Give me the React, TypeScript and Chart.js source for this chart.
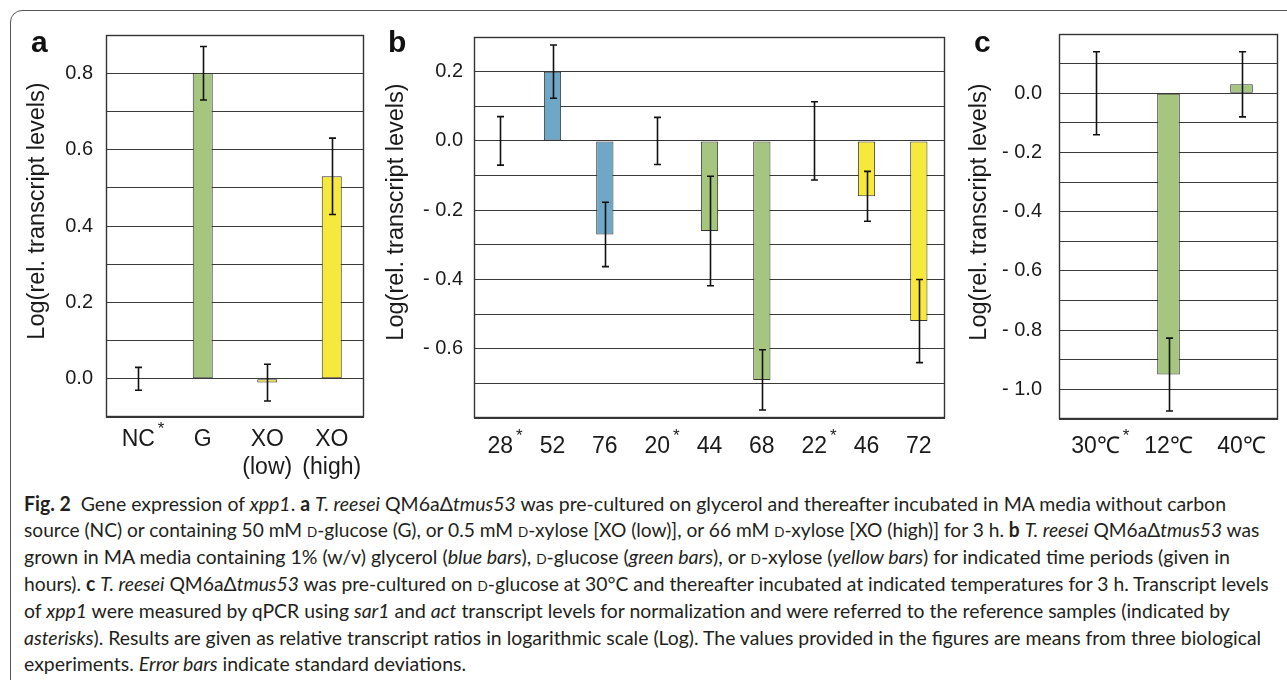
import React, { useEffect, useLayoutEffect, useRef } from "react";
import { Chart, registerables } from "chart.js";

Chart.register(...registerables);

const GREEN = "#a6c67f";
const YELLOW = "#f6e93b";
const BLUE = "#6fa7c7";
const EDGE = "#333333";
const GRID = "#3a3a3a";
const TEXT = "#1a1a1a";
const FONT = "'Liberation Sans', Arial, Helvetica, sans-serif";

// ---- Panel a ----
const A_LABELS = ["NC", "G", "XO", "XO"];
const A_SUBLABELS = ["", "", "(low)", "(high)"];
const A_REFERENCE = [true, false, false, false];
const A_VALUES = [0, 0.8, -0.01, 0.53];
const A_ERRORS = [0.03, 0.07, 0.048, 0.1];
const A_COLORS = [GREEN, GREEN, YELLOW, YELLOW];
const A_YRANGE = [-0.1, 0.9];

// ---- Panel b ----
const B_LABELS = ["28", "52", "76", "20", "44", "68", "22", "46", "72"];
const B_REFERENCE = [true, false, false, true, false, false, true, false, false];
const B_VALUES = [0, 0.2, -0.27, 0, -0.26, -0.69, 0, -0.16, -0.52];
const B_ERRORS = [0.07, 0.077, 0.093, 0.068, 0.158, 0.087, 0.113, 0.072, 0.12];
const B_COLORS = [BLUE, BLUE, BLUE, GREEN, GREEN, GREEN, YELLOW, YELLOW, YELLOW];
const B_YRANGE = [-0.8, 0.3];

// ---- Panel c ----
const C_LABELS = ["30\u2103", "12\u2103", "40\u2103"];
const C_REFERENCE = [true, false, false];
const C_VALUES = [0, -0.95, 0.03];
const C_ERRORS = [0.14, 0.123, 0.11];
const C_COLORS = [GREEN, GREEN, GREEN];
const C_YRANGE = [-1.1, 0.2];

const Y_STEP = 0.1;
const Y_TITLE = "Log(rel. transcript levels)";

function tickText(v: number, min: number, max: number): string {
  const k = Math.round(v * 10);
  if (k === Math.round(min * 10) || k === Math.round(max * 10)) return "";
  if (k % 2 !== 0) return "";
  if (k === 0) return "0.0";
  const s = (Math.abs(k) / 10).toFixed(1);
  return k < 0 ? "- " + s : s;
}

type PanelProps = {
  left: number;
  width: number;
  height: number;
  area: { left: number; right: number; top: number; bottom: number };
  labels: string[];
  sublabels?: string[];
  reference: boolean[];
  values: number[];
  errors: number[];
  colors: string[];
  yRange: number[];
  tickPad: number;
  barFrac: number;
  titleX: number;
  titleY: number;
  labelDy: number;
  sublabelDy?: number;
};

function Panel(p: PanelProps) {
  const ref = useRef<HTMLCanvasElement | null>(null);
  useEffect(() => {
    const canvas = ref.current!;
    const yWidth = p.area.left - p.left;
    const padRight = p.left + p.width - p.area.right;
    const [ymin, ymax] = p.yRange;

    const plugin = {
      id: "panelDecor",
      afterDatasetsDraw(chart: any) {
        const ctx = chart.ctx as CanvasRenderingContext2D;
        const ca = chart.chartArea;
        const ys = chart.scales.y;
        const xs = chart.scales.x;
        ctx.save();
        // frame
        ctx.strokeStyle = EDGE;
        ctx.lineWidth = 1.4;
        ctx.strokeRect(
          Math.round(ca.left) + 0.5,
          Math.round(ca.top) + 0.5,
          Math.round(ca.right - ca.left) - 1,
          Math.round(ca.bottom - ca.top) - 1
        );
        // error bars
        const meta = chart.getDatasetMeta(0);
        ctx.strokeStyle = "#111";
        ctx.lineWidth = 1.6;
        meta.data.forEach((bar: any, i: number) => {
          const x = Math.round(bar.x) + 0.5;
          const v = p.values[i];
          const e = p.errors[i];
          const yt = ys.getPixelForValue(v + e);
          const yb = ys.getPixelForValue(v - e);
          ctx.beginPath();
          ctx.moveTo(x, yt);
          ctx.lineTo(x, yb);
          ctx.moveTo(x - 3.5, yt);
          ctx.lineTo(x + 3.5, yt);
          ctx.moveTo(x - 3.5, yb);
          ctx.lineTo(x + 3.5, yb);
          ctx.stroke();
        });
        // x labels
        ctx.fillStyle = TEXT;
        ctx.textBaseline = "middle";
        p.labels.forEach((lab, i) => {
          const x = xs.getPixelForValue(i);
          const y = ca.bottom + p.labelDy;
          ctx.font = `23px ${FONT}`;
          ctx.textAlign = "center";
          ctx.fillText(lab, x, y);
          const w = ctx.measureText(lab).width;
          if (p.reference[i]) {
            ctx.font = `17px ${FONT}`;
            ctx.textAlign = "left";
            ctx.fillText("*", x + w / 2 + 3, y - 11);
          }
          if (p.sublabels && p.sublabels[i]) {
            ctx.font = `23px ${FONT}`;
            ctx.textAlign = "center";
            ctx.fillText(p.sublabels[i], x, ca.bottom + (p.sublabelDy || 50));
          }
        });
        // y title
        ctx.translate(p.titleX - p.left, p.titleY);
        ctx.rotate(-Math.PI / 2);
        ctx.font = `23.5px ${FONT}`;
        ctx.textAlign = "center";
        ctx.textBaseline = "middle";
        ctx.fillText(Y_TITLE, 0, 0);
        ctx.restore();
      },
    };

    const chart = new Chart(canvas, {
      type: "bar",
      data: {
        labels: p.labels,
        datasets: [
          {
            data: p.values,
            backgroundColor: p.colors,
            borderColor: p.values.map((v) => (v === 0 ? "rgba(0,0,0,0)" : EDGE)),
            borderWidth: 1,
            borderSkipped: false,
            barPercentage: p.barFrac,
            categoryPercentage: 1,
          },
        ],
      },
      options: {
        responsive: false,
        animation: false,
        devicePixelRatio: 1,
        events: [],
        layout: {
          padding: {
            left: 0,
            right: padRight,
            top: p.area.top,
            bottom: p.height - p.area.bottom,
          },
        },
        plugins: { legend: { display: false }, tooltip: { enabled: false } },
        scales: {
          x: { display: false, offset: true, grid: { display: false } },
          y: {
            min: ymin,
            max: ymax,
            ticks: {
              stepSize: Y_STEP,
              autoSkip: false,
              padding: p.tickPad,
              color: TEXT,
              font: { size: 20, family: FONT },
              callback: (v: any) => tickText(Number(v), ymin, ymax),
            },
            grid: { color: GRID, lineWidth: 1, drawTicks: false },
            border: { display: false },
            afterFit: (s: any) => {
              s.width = yWidth;
            },
          },
        },
      } as any,
      plugins: [plugin as any],
    });
    return () => chart.destroy();
  }, []);
  return (
    <canvas
      ref={ref}
      width={p.width}
      height={p.height}
      style={{ position: "absolute", left: p.left, top: 0, width: p.width, height: p.height }}
    />
  );
}

const D = () => <span style={{ fontVariant: "small-caps" }}>d</span>;

const CAPTION_LEFT = 24;
const CAPTION_TOP = 489.6;
const CAPTION_LINE = 26.8;
const CAPTION_WIDTHS = [1202, 1235, 1206, 1245, 1206, 1237, 442];

const CAPTION_LINES: React.ReactNode[] = [
  <>
    <b>Fig. 2</b>{"\u2002"}Gene expression of <i>xpp1</i>. <b>a</b> <i>T. reesei</i> QM6a{"\u0394"}
    <i>tmus53</i> was pre-cultured on glycerol and thereafter incubated in MA media without carbon
  </>,
  <>
    source (NC) or containing 50 mM <D />-glucose (G), or 0.5 mM <D />-xylose [XO (low)], or 66 mM <D />-xylose [XO
    (high)] for 3 h. <b>b</b> <i>T. reesei</i> QM6a{"\u0394"}
    <i>tmus53</i> was
  </>,
  <>
    grown in MA media containing 1% (w/v) glycerol (<i>blue bars</i>), <D />-glucose (<i>green bars</i>), or <D />
    -xylose (<i>yellow bars</i>) for indicated time periods (given in
  </>,
  <>
    hours). <b>c</b> <i>T. reesei</i> QM6a{"\u0394"}
    <i>tmus53</i> was pre-cultured on <D />-glucose at 30°C and thereafter incubated at indicated temperatures for 3 h.
    Transcript levels
  </>,
  <>
    of <i>xpp1</i> were measured by qPCR using <i>sar1</i> and <i>act</i> transcript levels for normalization and were
    referred to the reference samples (indicated by
  </>,
  <>
    <i>asterisks</i>). Results are given as relative transcript ratios in logarithmic scale (Log). The values provided
    in the figures are means from three biological
  </>,
  <>
    experiments. <i>Error bars</i> indicate standard deviations.
  </>,
];

function Caption() {
  const refs = useRef<(HTMLDivElement | null)[]>([]);
  useLayoutEffect(() => {
    const fit = () => {
      refs.current.forEach((el, i) => {
        if (!el) return;
        el.style.transform = "none";
        const w = el.scrollWidth;
        if (w > 0) el.style.transform = `scaleX(${CAPTION_WIDTHS[i] / w})`;
      });
    };
    fit();
    if ((document as any).fonts && (document as any).fonts.ready) {
      (document as any).fonts.ready.then(fit);
    }
  }, []);
  return (
    <>
      {CAPTION_LINES.map((line, i) => (
        <div
          key={i}
          ref={(el) => {
            refs.current[i] = el;
          }}
          style={{
            position: "absolute",
            left: CAPTION_LEFT,
            top: CAPTION_TOP + i * CAPTION_LINE,
            whiteSpace: "nowrap",
            display: "inline-block",
            transformOrigin: "0 50%",
            fontFamily: "Lato, 'Noto Sans', sans-serif",
            fontSize: 20,
            lineHeight: `${CAPTION_LINE}px`,
            color: "#231f20",
          }}
        >
          {line}
        </div>
      ))}
    </>
  );
}

const letterStyle: React.CSSProperties = {
  position: "absolute",
  top: 27,
  fontFamily: FONT,
  fontWeight: "bold",
  fontSize: 30,
  lineHeight: "30px",
  color: "#111",
};

export default function App() {
  return (
    <div
      style={{
        position: "absolute",
        left: 0,
        top: 0,
        width: 1287,
        height: 680,
        overflow: "hidden",
        background: "#fff",
      }}
    >
      <div
        style={{
          position: "absolute",
          left: 10,
          top: 10,
          width: 1300,
          height: 700,
          border: "1.5px solid #555",
          borderRadius: 12,
          boxSizing: "border-box",
        }}
      />
      <Panel
        left={14}
        width={360}
        height={490}
        area={{ left: 106, right: 364, top: 35, bottom: 417 }}
        labels={A_LABELS}
        sublabels={A_SUBLABELS}
        reference={A_REFERENCE}
        values={A_VALUES}
        errors={A_ERRORS}
        colors={A_COLORS}
        yRange={A_YRANGE}
        tickPad={13}
        barFrac={0.31}
        titleX={38}
        titleY={211}
        labelDy={23}
        sublabelDy={51}
      />
      <Panel
        left={380}
        width={575}
        height={490}
        area={{ left: 474, right: 945, top: 37, bottom: 418 }}
        labels={B_LABELS}
        reference={B_REFERENCE}
        values={B_VALUES}
        errors={B_ERRORS}
        colors={B_COLORS}
        yRange={B_YRANGE}
        tickPad={11}
        barFrac={0.33}
        titleX={397}
        titleY={212}
        labelDy={29}
      />
      <Panel
        left={960}
        width={327}
        height={490}
        area={{ left: 1059, right: 1278, top: 34, bottom: 419 }}
        labels={C_LABELS}
        reference={C_REFERENCE}
        values={C_VALUES}
        errors={C_ERRORS}
        colors={C_COLORS}
        yRange={C_YRANGE}
        tickPad={17}
        barFrac={0.31}
        titleX={980}
        titleY={212}
        labelDy={28}
      />
      <div style={{ ...letterStyle, left: 31 }}>a</div>
      <div style={{ ...letterStyle, left: 388 }}>b</div>
      <div style={{ ...letterStyle, left: 974 }}>c</div>
      <Caption />
    </div>
  );
}
